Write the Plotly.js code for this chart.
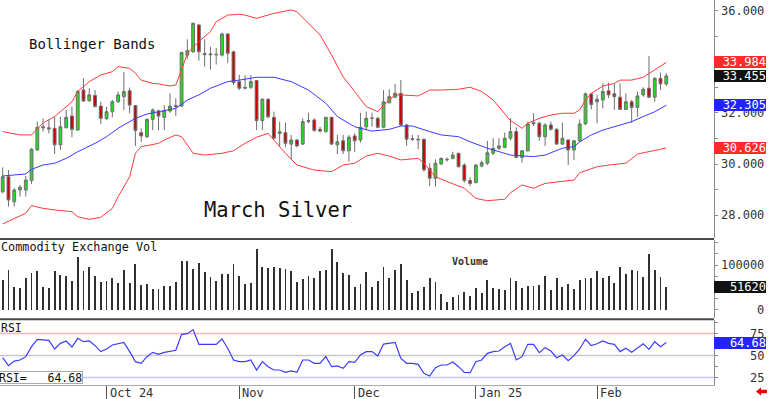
<!DOCTYPE html>
<html><head><meta charset="utf-8">
<script src="https://cdn.plot.ly/plotly-3.0.1.min.js"></script>
<style>html,body{margin:0;padding:0;background:#fff}#chart{width:768px;height:399px}</style>
</head><body><div id="chart"></div>
<script>
// ---- data (bar index: 0 = early Sep 2024 ... 115 = mid Feb 2025) ----
const openP = [28.91,29.50,28.52,28.98,28.98,29.35,30.55,31.46,31.42,31.40,
30.75,31.42,31.88,31.33,32.90,32.48,32.69,32.27,31.78,32.05,
32.44,32.64,32.87,32.29,31.23,31.07,31.75,32.08,31.83,32.08,
32.29,32.27,34.27,34.40,35.45,34.33,34.28,34.28,34.27,35.10,
34.40,33.23,32.97,33.01,33.27,31.70,32.54,31.83,31.20,31.23,
30.78,30.94,30.78,31.66,31.73,31.36,31.27,31.83,30.75,30.91,
30.52,31.10,30.94,31.46,31.79,31.79,31.44,32.40,32.62,32.77,
31.53,30.96,30.97,30.97,29.83,29.44,30.00,30.16,30.22,30.42,
29.96,29.35,29.27,29.92,30.03,30.42,30.62,30.65,31.01,31.27,
30.26,30.52,31.58,31.60,31.07,31.53,31.36,30.78,30.94,30.55,
30.91,31.57,32.75,32.44,32.51,32.87,32.75,32.62,32.14,32.44,
32.22,32.71,32.97,32.62,33.36,33.14];
const highP = [29.87,29.76,29.05,29.18,29.53,30.62,31.66,31.79,31.73,31.85,
31.85,32.12,32.25,32.90,33.36,32.97,32.90,32.44,32.25,32.51,
32.84,33.61,33.00,32.31,31.40,31.79,32.18,32.14,32.31,32.77,
32.58,34.40,34.89,35.54,35.49,34.89,34.60,34.55,35.15,35.13,
34.44,33.50,33.48,33.49,33.29,32.58,32.58,32.05,31.66,31.62,
31.14,30.97,31.79,32.01,31.79,31.46,31.85,31.85,31.14,31.14,
31.14,31.20,32.01,32.05,32.01,31.85,32.90,32.93,33.14,33.29,
31.57,31.14,31.14,31.01,30.03,30.18,30.26,30.26,30.48,30.44,
30.03,29.48,30.00,30.13,30.91,31.01,31.01,31.23,31.79,31.44,
30.55,31.66,31.99,31.66,31.60,31.66,31.40,31.62,30.97,30.94,
31.75,32.80,32.77,32.71,33.16,33.19,33.14,33.16,32.77,32.51,
32.84,33.01,34.24,33.40,33.58,33.56];
const lowP = [28.85,28.33,28.33,28.72,28.72,29.22,30.52,31.27,31.20,30.39,
30.55,31.40,31.05,31.31,32.44,32.44,32.22,31.57,31.73,31.83,
32.40,32.12,31.98,30.71,30.87,31.01,31.33,31.33,31.33,32.01,
31.88,32.25,34.11,34.36,34.05,33.82,33.70,33.90,34.21,33.97,
33.10,32.90,32.92,32.94,31.33,31.33,31.79,30.97,30.68,30.65,
30.16,30.65,30.75,31.60,31.27,31.23,31.23,30.75,30.39,30.39,
30.09,30.48,30.84,31.33,31.46,31.40,31.40,32.38,32.58,31.49,
30.71,30.91,30.58,29.70,29.14,29.11,29.96,30.09,30.18,29.87,
29.27,29.14,29.24,29.87,29.96,30.35,30.55,30.62,30.94,30.22,
30.05,30.48,31.49,30.91,30.71,31.31,30.75,30.75,29.96,30.16,
30.87,31.53,32.14,31.60,32.18,32.58,32.12,32.12,32.12,31.62,
31.85,32.64,32.58,32.44,32.90,33.06];
const closeP = [29.50,28.59,28.98,29.09,29.37,30.58,31.44,31.42,31.38,30.75,
31.46,31.83,31.36,32.84,32.47,32.71,32.25,31.79,32.05,32.44,
32.71,32.84,32.31,31.31,31.10,31.75,32.12,31.88,32.09,32.27,
32.25,34.37,34.44,35.52,34.40,34.29,34.31,34.30,35.10,34.34,
33.19,32.97,33.00,33.23,31.70,32.54,31.85,31.01,31.26,30.81,
30.94,30.71,31.66,31.70,31.31,31.29,31.83,30.78,30.87,30.52,
31.05,30.91,31.44,31.79,31.80,31.44,32.44,32.64,32.77,31.53,
30.97,30.99,30.95,29.77,29.44,30.03,30.22,30.18,30.35,29.89,
29.35,29.24,29.96,30.05,30.44,30.61,30.71,31.01,31.27,30.26,
30.52,31.57,31.62,31.07,31.53,31.36,30.78,31.01,30.55,30.91,
31.57,32.75,32.33,32.54,32.84,32.71,32.64,32.14,32.44,32.22,
32.67,32.93,32.62,33.36,33.14,33.455];

const upperIdx = [0,3,5,7,9,10,12,13,15,17,19,20,22,23,24,26,27,29,30,31,32,34,36,37,39,41,42,44,47,50,51,53,55,57,59,61,63,65,66,68,69,72,74,76,79,81,83,85,87,88,89,90,91,93,95,97,99,100,101,102,104,106,107,109,111,113,115];
const upperBand = [31.27,31.14,31.14,31.61,31.86,32.05,32.44,32.84,33.23,33.49,33.62,33.82,33.75,33.56,33.29,33.16,33.14,33.06,33.10,33.69,34.34,34.80,35.19,35.58,35.84,35.87,35.84,35.71,35.91,36.04,35.97,35.52,35.06,34.27,33.42,32.84,32.25,32.05,32.31,32.71,32.71,32.67,32.90,32.90,32.93,33.01,32.84,32.51,31.99,31.70,31.55,31.40,31.60,31.79,31.92,31.99,31.99,32.12,32.51,32.77,33.06,33.16,33.29,33.29,33.40,33.69,33.984];
const midIdx = [0,4,5,7,9,11,13,16,18,20,23,25,27,30,32,34,36,39,41,44,47,50,53,56,58,61,64,67,69,71,74,76,79,81,84,88,92,94,97,99,100,102,104,107,109,111,113,115];
const midBand = [29.53,29.61,29.79,29.96,30.03,30.22,30.48,30.81,31.07,31.40,31.79,31.96,32.05,32.18,32.51,32.71,32.97,33.23,33.29,33.40,33.40,33.23,32.90,32.38,31.86,31.46,31.29,31.36,31.49,31.49,31.27,31.14,31.07,30.87,30.62,30.35,30.29,30.35,30.62,30.68,30.87,31.14,31.33,31.53,31.66,31.86,32.05,32.305];
const lowerIdx = [0,2,4,5,7,9,12,13,15,17,19,20,22,23,24,27,28,30,31,33,35,38,40,42,44,46,47,49,51,54,57,59,61,63,65,67,69,72,73,75,77,80,82,84,87,88,90,92,94,97,99,100,103,105,108,110,112,115];
const lowerBand = [27.65,27.87,28.07,28.37,28.26,28.20,28.13,27.93,27.83,27.91,28.26,28.72,29.50,30.42,30.68,30.81,30.94,31.14,31.07,30.42,30.35,30.42,30.52,30.81,31.05,31.20,30.94,30.42,29.96,29.76,29.70,29.96,30.03,30.31,30.42,30.31,30.16,30.22,30.03,29.50,29.31,29.05,28.65,28.56,28.62,28.87,29.18,29.05,29.24,29.31,29.37,29.66,29.89,29.96,30.03,30.39,30.48,30.626];

const volume = [66300,88800,51300,49000,71500,81300,86500,51300,49000,86500,
77500,76000,64000,118000,86500,94800,76000,61100,64000,71500,
58900,89500,58900,101500,55000,56600,46000,46000,53500,53000,
62500,109000,109000,91000,104500,83600,72300,64000,79100,79100,
101500,76000,57300,58900,136000,95500,94000,94800,92500,92000,
86500,62500,67800,76000,71500,86500,89500,135000,107500,81300,
77500,51300,56600,83600,51300,64700,96200,70000,88800,101500,
66300,36300,41600,51300,70000,61100,34100,17600,28800,32600,
40100,31100,47600,36300,66300,47600,46100,43800,70000,64000,
47600,53500,53500,55000,75300,43800,71500,51300,56600,46100,
66300,71500,71500,86500,70000,76000,58900,96200,79100,88800,
86500,73700,124000,88800,73700,51620];

const rsi = [47.5,38.4,43.7,44.9,48.7,60.0,68.4,67.6,67.2,57.4,
63.8,66.5,59.7,69.5,65.7,66.5,61.2,54.4,57.4,61.9,
63.4,64.9,54.4,43.0,41.1,48.7,53.6,51.4,53.6,55.1,
55.9,74.1,74.8,79.4,62.7,62.7,62.7,62.7,68.8,58.2,
44.9,43.0,43.0,44.9,33.5,43.0,37.3,33.5,33.5,30.9,
32.4,30.9,44.9,44.9,41.1,41.1,48.7,37.3,38.1,35.4,
43.0,42.2,50.6,54.4,54.4,49.4,63.0,63.8,64.9,46.7,
41.1,41.1,39.9,29.7,26.7,36.1,39.2,39.2,42.6,37.3,
30.9,30.5,43.0,44.9,52.5,54.4,55.1,60.0,63.8,44.9,
48.7,62.7,62.7,53.2,58.9,55.1,47.5,50.6,44.1,49.8,
57.4,68.4,61.2,63.4,66.5,63.8,62.7,54.4,58.2,53.6,
58.9,63.4,57.0,65.7,60.0,64.68];

const monthIdx = [18,41,61,82,103];
const monthText = ['Oct 24','Nov','Dec','Jan 25','Feb'];
const priceTicks = [36,32,30,28];
const priceTickText = ['36.000','32.000','30.000','28.000'];
const volTicks = [100000,0];
const volTickText = ['100000','0'];
const rsiTicks = [75,50,25];
const rsiTickText = ['75','50','25'];
const rsiLevels = [75,50,25];
const rsiLevelColors = ['#ffb4b4','#c8c8c8','#c4c4ff'];
const priceBoxes = [
  {v:33.984, t:'33.984', c:'#ff2a2a'},
  {v:33.455, t:'33.455', c:'#111111'},
  {v:32.305, t:'32.305', c:'#2323ff'},
  {v:30.626, t:'30.626', c:'#ff2a2a'}
];
const lastVolume = 51620, lastRsi = 64.68;

// ---- build ----
const idx = closeP.map((_, i) => i);
const MONO = 'DejaVu Sans Mono';

const traces = [
  {type:'scatter', mode:'lines', x:upperIdx, y:upperBand, xaxis:'x', yaxis:'y', line:{color:'#ff3a3a', width:1}, hoverinfo:'skip'},
  {type:'scatter', mode:'lines', x:lowerIdx, y:lowerBand, xaxis:'x', yaxis:'y', line:{color:'#ff3a3a', width:1}, hoverinfo:'skip'},
  {type:'scatter', mode:'lines', x:midIdx, y:midBand, xaxis:'x', yaxis:'y', line:{color:'#3a3aff', width:1}, hoverinfo:'skip'},
  {type:'candlestick', x:idx, open:openP, high:highP, low:lowP, close:closeP, xaxis:'x', yaxis:'y',
   increasing:{line:{color:'#6e6e6e', width:1}, fillcolor:'#22dd22'},
   decreasing:{line:{color:'#6e6e6e', width:1}, fillcolor:'#cc0000'}, hoverinfo:'skip'},
  {type:'bar', x:idx, y:volume, xaxis:'x', yaxis:'y2', width:0.32, marker:{color:'#303030', line:{width:0}}, hoverinfo:'skip'},
  {type:'scatter', mode:'lines', x:idx, y:rsi, xaxis:'x', yaxis:'y3', line:{color:'#3c3cff', width:1.2}, hoverinfo:'skip'}
];

const W = 714, H = 385;          // plot area size in px
const px = p => p / W;            // paper x from pixel
const py = p => (H - p) / H;      // paper y from pixel

const ann = [];
const labelX = px(766);
priceTicks.forEach((v, k) => ann.push({xref:'paper', yref:'y', x:labelX, y:v, xanchor:'right', yanchor:'middle', text:priceTickText[k], showarrow:false, font:{family:MONO, size:12, color:'#333'}}));
volTicks.forEach((v, k) => ann.push({xref:'paper', yref:'y2', x:labelX, y:v, xanchor:'right', yanchor:'middle', text:volTickText[k], showarrow:false, font:{family:MONO, size:12, color:'#333'}}));
rsiTicks.forEach((v, k) => ann.push({xref:'paper', yref:'y3', x:labelX, y:v, xanchor:'right', yanchor:'middle', text:rsiTickText[k], showarrow:false, font:{family:MONO, size:12, color:'#333'}}));
monthIdx.forEach((v, k) => ann.push({xref:'x', yref:'paper', x:v, y:py(393), xanchor:'left', yanchor:'middle', xshift:1, text:monthText[k], showarrow:false, font:{family:MONO, size:12, color:'#333'}}));

const box = (yref, v, t, c) => ({xref:'paper', yref:yref, x:1.0, y:v, xanchor:'left', yanchor:'middle', text:t, showarrow:false,
  bgcolor:c, borderpad:0, borderwidth:0, width:52, height:12, align:'right', font:{family:MONO, size:12, color:'#ffffff'}});
priceBoxes.forEach(b => ann.push(box('y', b.v, b.t, b.c)));
ann.push(box('y2', lastVolume, String(lastVolume), '#111111'));
ann.push(box('y3', lastRsi, lastRsi.toFixed(2), '#2323ff'));

ann.push({xref:'paper', yref:'paper', x:px(27), y:py(44), xanchor:'left', yanchor:'middle', text:'Bollinger Bands', showarrow:false, font:{family:MONO, size:14, color:'#111'}});
ann.push({xref:'paper', yref:'paper', x:px(202), y:py(209.5), xanchor:'left', yanchor:'middle', text:'March Silver', showarrow:false, font:{family:MONO, size:20.5, color:'#111'}});
ann.push({xref:'paper', yref:'paper', x:px(-1), y:py(246.5), xanchor:'left', yanchor:'middle', text:'Commodity Exchange Vol', showarrow:false, font:{family:MONO, size:11.8, color:'#111'}});
ann.push({xref:'paper', yref:'paper', x:px(450), y:py(261), xanchor:'left', yanchor:'middle', text:'<b>Volume</b>', showarrow:false, font:{family:MONO, size:10, color:'#333'}});
ann.push({xref:'paper', yref:'paper', x:px(-1), y:py(327.5), xanchor:'left', yanchor:'middle', text:'RSI', showarrow:false, font:{family:MONO, size:11.5, color:'#111'}});
ann.push({xref:'paper', yref:'paper', x:px(-2), y:py(377.5), xanchor:'left', yanchor:'middle', text:'RSI=   ' + lastRsi.toFixed(2), showarrow:false,
  bgcolor:'#ffffff', bordercolor:'#aaaaaa', borderwidth:1, borderpad:0, height:11, font:{family:MONO, size:11.5, color:'#111'}});

const shapes = [];
rsiLevels.forEach((v, k) => shapes.push({type:'line', xref:'paper', x0:0, x1:1, yref:'y3', y0:v, y1:v, line:{color:rsiLevelColors[k], width:1.5}, layer:'below'}));
shapes.push({type:'line', xref:'paper', x0:0, x1:1, yref:'paper', y0:py(239), y1:py(239), line:{color:'#4a4a4a', width:2}});
shapes.push({type:'line', xref:'paper', x0:0, x1:1, yref:'paper', y0:py(319.2), y1:py(319.2), line:{color:'#4a4a4a', width:2}});
// small red arrow icon, bottom right
shapes.push({type:'path', xref:'paper', yref:'paper', fillcolor:'#ee0000', line:{width:0},
  path:`M ${px(756)} ${py(391.5)} L ${px(761)} ${py(387.5)} L ${px(761)} ${py(389.8)} L ${px(767)} ${py(389.8)} L ${px(767)} ${py(393.2)} L ${px(761)} ${py(393.2)} L ${px(761)} ${py(395.5)} Z`});

const yBase = {side:'right', anchor:'x', showgrid:false, zeroline:false, showline:true, linecolor:'#8a8a8a', linewidth:1,
  ticks:'outside', ticklen:3, tickcolor:'#8a8a8a', showticklabels:false, fixedrange:true};

const layout = {
  width:768, height:399, margin:{l:0, r:54, t:0, b:14, pad:0},
  paper_bgcolor:'#ffffff', plot_bgcolor:'#ffffff', showlegend:false, hovermode:false,
  xaxis:{domain:[0,1], range:[-0.468,123.27], anchor:'y3', showgrid:false, zeroline:false,
    tickmode:'array', tickvals:monthIdx, ticks:'outside', ticklen:14, tickcolor:'#555', tickwidth:1,
    showticklabels:false, showline:true, linecolor:'#aaaaaa', linewidth:1, rangeslider:{visible:false}, fixedrange:true},
  yaxis:Object.assign({}, yBase, {domain:[py(238),1], range:[27.098,36.431], dtick:1, tick0:0}),
  yaxis2:Object.assign({}, yBase, {domain:[py(318),py(240)], range:[-19100,156180], dtick:25000, tick0:0}),
  yaxis3:Object.assign({}, yBase, {domain:[0,py(320)], range:[16.48,90.34], dtick:12.5, tick0:0}),
  bargap:0, annotations:ann, shapes:shapes
};

Plotly.newPlot('chart', traces, layout, {staticPlot:true, displayModeBar:false});
</script></body></html>
